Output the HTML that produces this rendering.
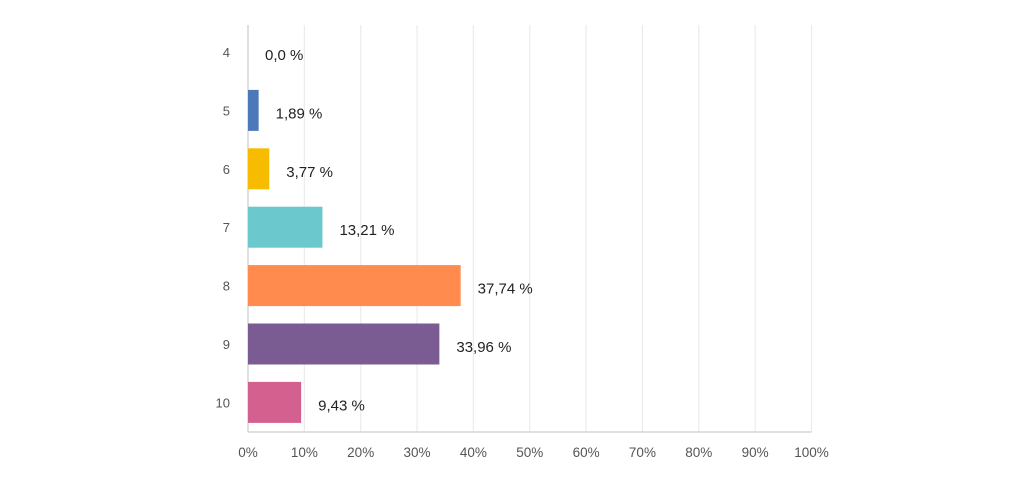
<!DOCTYPE html>
<html><head><meta charset="utf-8"><style>
body{margin:0;background:#fff;}
svg{display:block;font-family:"Liberation Sans",sans-serif;}
</style></head><body>
<svg id="chart" width="1024" height="486"></svg>
<script>
const categories=["4","5","6","7","8","9","10"];
const values=[0,1.89,3.77,13.21,37.74,33.96,9.43];
const valueLabels=["0,0 %","1,89 %","3,77 %","13,21 %","37,74 %","33,96 %","9,43 %"];
const colors=["#4e79b8","#4e79b8","#f7bc00","#6bc8cc","#ff8b4e","#7b5c92","#d3608f"];
const ticks=[0,10,20,30,40,50,60,70,80,90,100];
const NS="http://www.w3.org/2000/svg";
const svg=document.getElementById('chart');
const x0=248,x1=811.5,yTop=25,yBot=432;
const xs=v=>x0+(v/100)*(x1-x0);
const firstC=52,step=58.4;
const yc=i=>firstC+i*step;
function mk(t,a){const e=document.createElementNS(NS,t);for(const k in a)e.setAttribute(k,a[k]);svg.appendChild(e);return e;}
ticks.forEach(t=>{
  if(t>0){const g=mk('line',{x1:xs(t),x2:xs(t),y1:yTop,y2:yBot,stroke:'#ebebeb','stroke-width':1.2});
  
  }
  const tx=mk('text',{x:xs(t),y:457,'text-anchor':'middle','font-size':13.5,fill:'#555'});
  tx.textContent=t+'%';
  
  
});
const ax=mk('line',{x1:x0,x2:x1,y1:yBot,y2:yBot,stroke:'#d6d6d6','stroke-width':1.5});


const ay=mk('line',{x1:x0,x2:x0,y1:yTop,y2:yBot,stroke:'#d6d6d6','stroke-width':1.5});


categories.forEach((c,i)=>{
  const cy=yc(i);
  const lab=mk('text',{x:230,y:cy+5,'text-anchor':'end','font-size':13,fill:'#555'});
  lab.textContent=c;
  
  
  const w=xs(values[i])-x0;
  if(w>0){const b=mk('rect',{x:x0,y:cy-20.5,width:w,height:41,fill:colors[i]});
  
  }
  const vt=mk('text',{x:xs(values[i])+(w>0?17:17),y:cy+8,'font-size':15,fill:'#222'});
  vt.textContent=valueLabels[i];
  
  
});
</script>
</body></html>
